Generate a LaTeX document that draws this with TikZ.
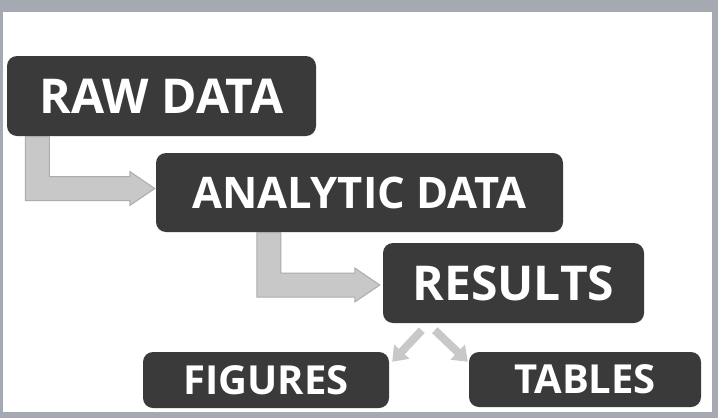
\documentclass[tikz,border=0pt]{standalone}
\usepackage{fontspec}
\setmainfont{Open Sans}
\usetikzlibrary{arrows.meta,calc}

\definecolor{marcogris}{RGB}{165,169,177}
\definecolor{cajagris}{RGB}{58,58,58}
\definecolor{flechagris}{RGB}{200,200,200}
\definecolor{flechaborde}{RGB}{172,172,172}

\newcommand{\grande}{\fontsize{48}{50}\selectfont\bfseries}
\newcommand{\mediano}{\fontsize{43.5}{45}\selectfont\bfseries}
\newcommand{\chico}{\fontsize{40}{42}\selectfont\bfseries}

% flecha en codo: (#1) inicio abajo, (#2) punta a la derecha
\newcommand{\flechacodo}[2]{%
  \path[flechagorda] let \p1=(#1), \p2=(#2) in
    (\x1-12pt,\y1) -- (\x1-12pt,\y2-12pt) -- (\x2-25pt,\y2-12pt)
    -- (\x2-25pt,\y2-17pt) -- (\x2,\y2) -- (\x2-25pt,\y2+17pt)
    -- (\x2-25pt,\y2+12pt) -- (\x1+12pt,\y2+12pt) -- (\x1+12pt,\y1) -- cycle;}

\tikzset{
  caja/.style={fill=cajagris, text=white, rounded corners=10pt, inner sep=0pt},
  flechagorda/.style={fill=flechagris, draw=flechaborde, line width=1pt},
  flechafina/.style={draw=flechagris, line width=8pt, -{Triangle[width=20pt,length=14pt]}}
}

\begin{document}
\begin{tikzpicture}[x=1pt,y=-1pt]
    \useasboundingbox (0,0) rectangle (718,418);
    % Marco
    \fill[marcogris] (0,0) rectangle (718,418);
    \fill[white] (3,12) rectangle (712,412);

    % Cajas
    \node[caja, minimum width=309pt, minimum height=80pt, font=\grande] (raw) at (161.5,96) {RAW DATA};
    \node[caja, minimum width=407pt, minimum height=79pt, font=\mediano] (ana) at (359.5,192.5) {ANALYTIC DATA};
    \node[caja, minimum width=261pt, minimum height=80pt, font=\grande] (res) at (513.5,283) {RESULTS};
    \node[caja, minimum width=246pt, minimum height=56pt, font=\chico] (fig) at (266,380) {FIGURES};
    \node[caja, minimum width=232pt, minimum height=55pt, font=\chico] (tab) at (585,379.5) {TABLES};

    % Flechas en codo
    \flechacodo{$(raw.south west)+(30.5,0.5)$}{$(ana.west)+(-1,-4)$}
    \flechacodo{$(ana.south west)+(113,0.5)$}{$(res.west)+(-3,2)$}

    % Flechas finas
    \draw[flechafina] ($(res.south west)+(39,7)$) -- ($(fig.north east)+(3,10)$);
    \draw[flechafina] ($(res.south west)+(52,7)$) -- ($(tab.north west)+(-1,10)$);
\end{tikzpicture}
\end{document}
